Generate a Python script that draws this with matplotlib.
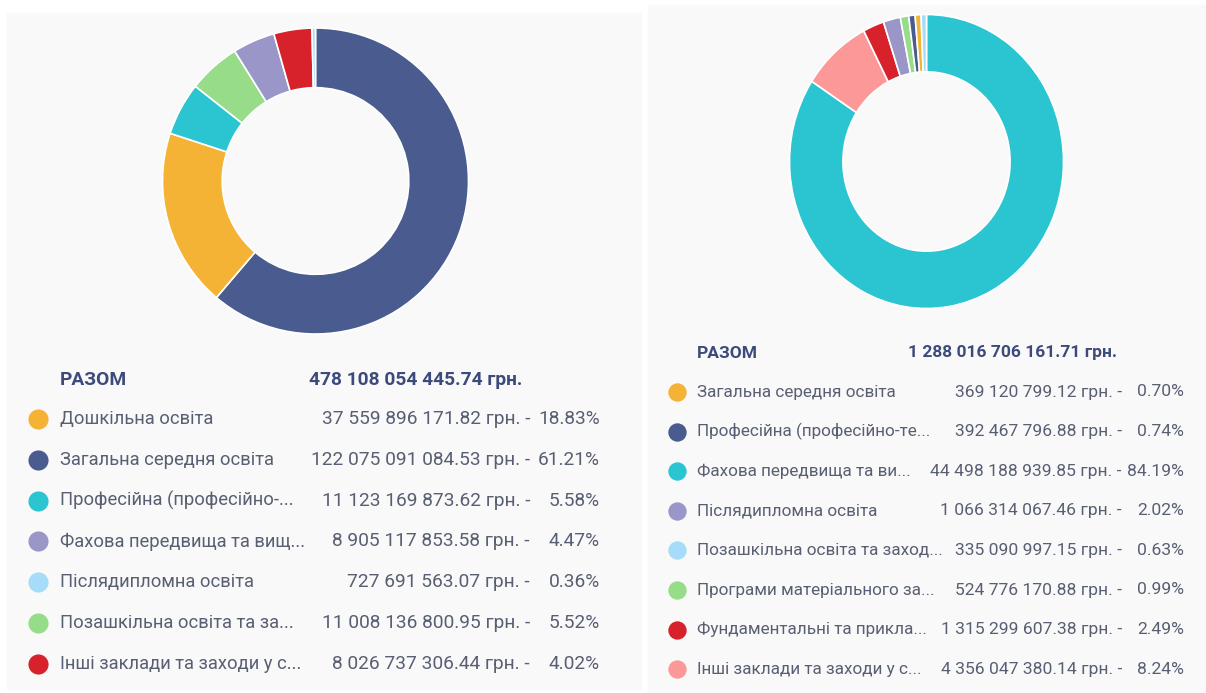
import matplotlib.pyplot as plt
from matplotlib.patches import Rectangle

plt.rcParams['font.family'] = ['Roboto', 'DejaVu Sans']

# left chart: education budget by level
left_labels = ['Дошкільна освіта', 'Загальна середня освіта', 'Професійна (професійно-...',
               'Фахова передвища та вищ...', 'Післядипломна освіта',
               'Позашкільна освіта та за...', 'Інші заклади та заходи у с...']
left_amounts = [37559896171.82, 122075091084.53, 11123169873.62, 8905117853.58,
                727691563.07, 11008136800.95, 8026737306.44]
left_amount_txt = ['37 559 896 171.82', '122 075 091 084.53', '11 123 169 873.62',
                   '8 905 117 853.58', '727 691 563.07', '11 008 136 800.95', '8 026 737 306.44']
left_pct = ['18.83%', '61.21%', '5.58%', '4.47%', '0.36%', '5.52%', '4.02%']
left_colors = ['#f5b335', '#4a5b8f', '#2ac5d1', '#9a96c8', '#a6dcf9', '#97dc89', '#d8222b']
left_total = '478 108 054 445.74 грн.'

# right chart
right_labels = ['Загальна середня освіта', 'Професійна (професійно-те...',
                'Фахова передвища та ви...', 'Післядипломна освіта',
                'Позашкільна освіта та заход...', 'Програми матеріального за...',
                'Фундаментальні та прикла...', 'Інші заклади та заходи у с...']
right_amounts = [369120799.12, 392467796.88, 44498188939.85, 1066314067.46,
                 335090997.15, 524776170.88, 1315299607.38, 4356047380.14]
right_amount_txt = ['369 120 799.12', '392 467 796.88', '44 498 188 939.85', '1 066 314 067.46',
                    '335 090 997.15', '524 776 170.88', '1 315 299 607.38', '4 356 047 380.14']
right_pct = ['0.70%', '0.74%', '84.19%', '2.02%', '0.63%', '0.99%', '2.49%', '8.24%']
right_colors = ['#f5b335', '#4a5b8f', '#2ac5d1', '#9a96c8', '#a6dcf9', '#97dc89', '#d8222b', '#fc9898']
right_total = '1 288 016 706 161.71 грн.'

W, H = 1206, 693
fig = plt.figure(figsize=(W / 100, H / 100), dpi=100, facecolor='white')

# background axes in pixel coords (y down)
bg = fig.add_axes([0, 0, 1, 1])
bg.set_xlim(0, W)
bg.set_ylim(H, 0)
bg.axis('off')
bg.add_patch(Rectangle((7, 13), 634, 676, color='#f9f9f9', zorder=0))
bg.add_patch(Rectangle((648, 5), 558, 688, color='#f9f9f9', zorder=0))

HEAD = '#3c4a7c'
TXT = '#585f72'


def donut(box, amounts, colors):
    x0, y0, w, h = box
    ax = fig.add_axes([x0 / W, 1 - (y0 + h) / H, w / W, h / H])
    order = sorted(range(len(amounts)), key=lambda i: -amounts[i])
    ax.pie([amounts[i] for i in order], colors=[colors[i] for i in order],
           startangle=90, counterclock=False, radius=1,
           wedgeprops=dict(width=0.39, edgecolor='white', linewidth=1.2))
    ax.set_aspect('auto')
    ax.set_xlim(-1, 1)
    ax.set_ylim(-1, 1)
    ax.axis('off')


def legend(labels, amount_txt, pct, colors, total, x_dot, x_lab, x_total, x_dash, x_end,
           y_head, y_rows, dot_size, fs_lab, fs_num, fs_head):
    bg.text(x_lab, y_head, 'РАЗОМ', fontsize=fs_head, fontweight='bold', color=HEAD,
            ha='left', va='center')
    bg.text(x_total, y_head, total, fontsize=fs_head, fontweight='bold', color=HEAD,
            ha='left', va='center')
    for i, lab in enumerate(labels):
        y = y_rows[i]
        bg.scatter([x_dot], [y], s=dot_size, color=colors[i], zorder=3, linewidths=0)
        bg.text(x_lab, y, lab, fontsize=fs_lab, color=TXT, ha='left', va='center')
        bg.text(x_dash, y, amount_txt[i] + ' грн. -', fontsize=fs_num, color=TXT,
                ha='right', va='center')
        bg.text(x_end, y, pct[i], fontsize=fs_num, color=TXT, ha='right', va='center')


donut((162.5, 28, 306, 306), left_amounts, left_colors)
donut((789.5, 14.5, 274, 294), right_amounts, right_colors)

legend(left_labels, left_amount_txt, left_pct, left_colors, left_total,
       38, 60, 309, 530, 600, 380, [419 + 40.8 * i for i in range(7)], 210,
       13.2, 13.8, 13.8)
legend(right_labels, right_amount_txt, right_pct, right_colors, right_total,
       677, 697, 908, 1122, 1184, 353, [392 + 39.6 * i for i in range(8)], 175,
       12.3, 12.6, 12.5)

fig.savefig('out.png', dpi=100, facecolor='white')
